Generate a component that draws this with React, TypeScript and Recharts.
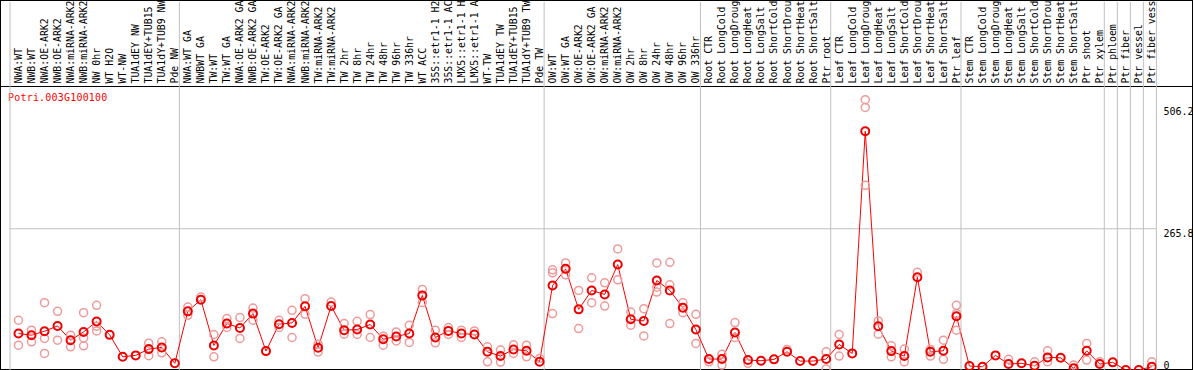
import { ComposedChart, Line, Scatter, XAxis, YAxis, ReferenceLine } from "recharts"

const geneId = "Potri.003G100100"

// sample names as they show in the header (long ones are cut by the frame)
const labels = [
  "NWA:WT", "NWB:WT", "NWA:OE-ARK2", "NWB:OE-ARK2", "NWA:miRNA-ARK2", "NWB:miRNA-ARK2",
  "NW 0hr", "WT H2O", "WT-NW", "TUA1dEY NW", "TUA1dEY+TUB15", "TUA1dY+TUB9 NW", "Pde NW",
  "NWA:WT GA", "NWBWT GA", "TW:WT", "TW:WT GA", "NWA:OE-ARK2 GA", "NWB:OE-ARK2 GA",
  "TW:OE-ARK2", "TW:OE-ARK2 GA", "NWA:miRNA-ARK2", "NWB:miRNA-ARK2", "TW:miRNA-ARK2",
  "TW:miRNA-ARK2", "TW 2hr", "TW 8hr", "TW 24hr", "TW 48hr", "TW 96hr", "TW 336hr", "WT ACC",
  "35S::etr1-1 H2", "35S::etr1-1 AC", "LMX5::etr1-1 H", "LMX5::etr1-1 A", "WT-TW",
  "TUA1dEY TW", "TUA1dEY+TUB15", "TUA1dY+TUB9 TW", "Pde TW",
  "OW:WT", "OW:WT GA", "OW:OE-ARK2", "OW:OE-ARK2 GA", "OW:miRNA-ARK2", "OW:miRNA-ARK2",
  "OW 2hr", "OW 8hr", "OW 24hr", "OW 48hr", "OW 96hr", "OW 336hr",
  "Root CTR", "Root LongCold", "Root LongDroug", "Root LongHeat", "Root LongSalt",
  "Root ShortCold", "Root ShortDrou", "Root ShortHeat", "Root ShortSalt", "Ptr root",
  "Leaf CTR", "Leaf LongCold", "Leaf LongDroug", "Leaf LongHeat", "Leaf LongSalt",
  "Leaf ShortCold", "Leaf ShortDrou", "Leaf ShortHeat", "Leaf ShortSalt", "Ptr leaf",
  "Stem CTR", "Stem LongCold", "Stem LongDroug", "Stem LongHeat", "Stem LongSalt",
  "Stem ShortCold", "Stem ShortDrou", "Stem ShortHeat", "Stem ShortSalt", "Ptr shoot",
  "Ptr xylem", "Ptr phloem", "Ptr fiber", "Ptr vessel", "Ptr fiber vess",
]

// mean expression per sample
const means = [
  70.7, 67.6, 75.0, 84.8, 58.3, 73.7, 93.0, 68.2, 27.4, 30.0,
  41.7, 44.8, 15.2, 112.0, 133.7, 48.5, 89.3, 81.1, 107.8, 38.0,
  88.0, 90.4, 121.3, 44.1, 121.9, 76.9, 78.2, 87.4, 60.2, 65.2,
  70.7, 141.7, 63.3, 75.6, 70.7, 68.9, 36.7, 28.7, 41.1, 38.5,
  18.1, 160.2, 191.1, 115.7, 150.9, 143.5, 199.1, 97.2, 94.1, 169.5,
  150.9, 118.9, 78.2, 23.2, 23.2, 72.6, 21.3, 20.0, 22.6, 36.7,
  19.4, 19.4, 23.2, 50.4, 33.7, 447.3, 84.3, 38.0, 28.7, 175.6,
  36.7, 38.5, 102.8, 10.2, 8.9, 30.0, 13.9, 15.2, 10.7, 26.3,
  25.6, 5.9, 38.5, 13.9, 17.0, 2.8, 2.8, 8.9,
]

// individual replicates (the ones that show apart from the mean)
const reps = [
  [95.4, 49.1], [76.9, 55.2], [128.2, 61.5, 33.7], [112.0, 58.3], [67.6, 45.9],
  [109.6, 62.6, 47.8], [123.2, 75.6, 84.3], [], [], [],
  [52.8, 29.3], [55.2, 34.8], [], [120.0, 104.6], [138.5],
  [68.9, 27.4], [98.5, 81.9], [100.4, 61.5], [118.2, 95.4], [],
  [95.4, 81.9], [113.9, 63.3], [135.6, 106.5], [50.9, 36.1], [129.3],
  [89.3, 69.5], [93.5, 68.9], [106.0, 63.3], [65.7, 49.1], [73.7, 57.0],
  [86.1, 54.1], [152.8, 128.7], [76.9, 53.3], [81.9, 68.9], [76.9, 63.3],
  [75.6], [45.9, 18.1], [39.8, 17.6], [49.6, 33.7], [49.1, 27.4],
  [24.4], [189.3, 183.7, 107.8], [202.2, 180.0], [150.9, 80.0], [174.5, 128.2],
  [165.2, 121.9], [228.2, 170.8], [110.8, 86.1], [117.0, 66.3], [202.2, 157.0, 147.8],
  [203.3, 161.5, 89.3], [128.2, 109.6], [106.5, 52.2], [18.1], [31.9, 12.0],
  [91.1, 63.3], [15.2], [], [], [41.1],
  [], [], [36.7, 4.6], [68.9, 28.7], [],
  [506.2, 491.7, 346.7], [94.1, 69.5], [47.8, 27.4], [41.7, 18.1], [184.8],
  [41.1, 28.7], [58.3, 22.6], [123.2, 107.8, 76.9], [], [],
  [], [22.6], [], [18.1], [38.5, 18.1],
  [], [12.0], [52.2, 21.3], [18.1], [],
  [], [], [18.1],
]

const yTicks = [0, 265.8, 506.2]
// sample index after which a group separator is drawn
const groupEnds = [0, 13, 41, 53, 63, 73, 84, 85, 86, 87, 88]

const meanData = means.map((v, i) => ({ idx: i + 1, mean: v }))
const repData = reps.flatMap((r, i) => r.map((v) => ({ idx: i + 1, v })))

const FONT = '"DejaVu Sans Mono", monospace'
const yLabelShift: Record<string, number> = { "0": -6, "265.8": 4.5, "506.2": 12 }

function renderHeaderTick(props: any) {
  const { x, payload, index } = props
  return (
    <text
      key={index}
      x={x}
      y={83.5}
      dy="0.35em"
      transform={`rotate(-90, ${x}, 83.5)`}
      textAnchor="start"
      fontSize={9.85}
      fontFamily={FONT}
      fill="#000"
    >
      {labels[payload.value - 1]}
    </text>
  )
}

function renderValueTick(props: any) {
  const { x, y, payload, index } = props
  return (
    <text key={index} x={x} y={y + (yLabelShift[String(payload.value)] ?? 0)} dy="0.35em" textAnchor="start" fontSize={10} fontFamily={FONT} fill="#000">
      {payload.value}
    </text>
  )
}

function RepDot(props: any) {
  const { cx, cy } = props
  return <circle cx={cx} cy={cy} r={4} fill="none" stroke="#ef9a9a" strokeWidth={1.5} />
}

function MeanDot(props: any) {
  const { cx, cy, index } = props
  return <circle key={index} cx={cx} cy={cy} r={4} fill="none" stroke="#ee0000" strokeWidth={2} />
}

export default function App() {
  return (
    <div style={{ position: "absolute", left: 0, top: 0, width: 1194, height: 370, overflow: "hidden", background: "#fff" }}>
      <div style={{ position: "absolute", left: 0, top: 0, width: 1193, height: 370, border: "1px solid #000", boxSizing: "border-box" }} />
      <div style={{ position: "absolute", left: 0, top: 86, width: 1193, height: 1, background: "#000" }} />
      <div style={{ position: "absolute", left: 8, top: 92, color: "#ff0000", fontFamily: FONT, fontSize: 10, lineHeight: "12px", letterSpacing: 0.2 }}>
        {geneId}
      </div>
      <div style={{ position: "absolute", left: 0, top: 0 }}>
        <ComposedChart width={1194} height={380} data={meanData} margin={{ top: 1, right: 0, bottom: 8.5, left: 10 }}>
          <XAxis
            dataKey="idx"
            type="number"
            orientation="top"
            domain={[0.35, 88.35]}
            allowDataOverflow
            height={1}
            ticks={labels.map((_, i) => i + 1)}
            interval={0}
            tick={renderHeaderTick}
            axisLine={false}
            tickLine={false}
          />
          <YAxis
            orientation="right"
            type="number"
            domain={[0, 688]}
            allowDataOverflow
            width={37.6}
            ticks={yTicks}
            interval={0}
            tick={renderValueTick}
            tickSize={0}
            tickMargin={7}
            axisLine={false}
            tickLine={false}
          />
          <ReferenceLine y={265.8} stroke="#c0c0c0" strokeWidth={1} />
          {groupEnds.map((g) => (
            <ReferenceLine key={g} x={g + 0.35} stroke="#c0c0c0" strokeWidth={1} />
          ))}
          <Scatter data={repData} dataKey="v" shape={RepDot} isAnimationActive={false} />
          <Line dataKey="mean" stroke="#ff0000" strokeWidth={1} dot={MeanDot} activeDot={false} isAnimationActive={false} />
        </ComposedChart>
      </div>
    </div>
  )
}
